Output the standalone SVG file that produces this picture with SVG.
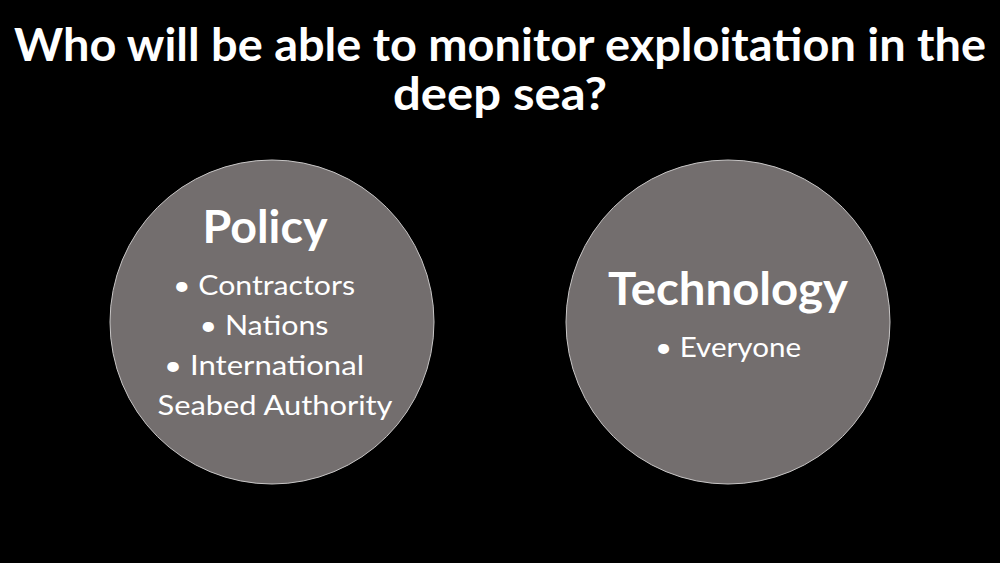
<svg xmlns="http://www.w3.org/2000/svg" width="1000" height="563" viewBox="0 0 1000 563">
<style>
.title{font-family:"Lato","Liberation Sans",sans-serif;font-weight:bold;font-size:46px;fill:#fff;text-anchor:middle}
.head{font-family:"Lato","Open Sans",sans-serif;font-weight:bold;font-size:45px;fill:#fff;text-anchor:middle}
.item{font-family:"Lato","Open Sans",sans-serif;font-size:27px;fill:#fff;text-anchor:middle}
.circ{fill:#736e6e;stroke:#c8c6c6;stroke-width:1}
</style>
<rect width="1000" height="563" fill="#000"/>
<g id="title">
<text class="title" x="500" y="61" textLength="972" lengthAdjust="spacingAndGlyphs">Who will be able to monitor exploitation in the</text>
<text class="title" x="500" y="110" textLength="214" lengthAdjust="spacingAndGlyphs">deep sea?</text>
</g>
<g id="policy">
<circle class="circ" cx="272" cy="322" r="162"/>
<text class="head" x="265" y="243" textLength="125" lengthAdjust="spacingAndGlyphs">Policy</text>
<text class="item" x="264" y="295" textLength="182" lengthAdjust="spacingAndGlyphs">• Contractors</text>
<text class="item" x="264" y="335" textLength="129" lengthAdjust="spacingAndGlyphs">• Nations</text>
<text class="item" x="264" y="375" textLength="200" lengthAdjust="spacingAndGlyphs">• International</text>
<text class="item" x="275" y="415" textLength="235" lengthAdjust="spacingAndGlyphs">Seabed Authority</text>
</g>
<g id="technology">
<circle class="circ" cx="728" cy="322" r="162"/>
<text class="head" x="728" y="305" textLength="240" lengthAdjust="spacingAndGlyphs">Technology</text>
<text class="item" x="728" y="357" textLength="146" lengthAdjust="spacingAndGlyphs">• Everyone</text>
</g>
<g id="connectors"/>
</svg>
